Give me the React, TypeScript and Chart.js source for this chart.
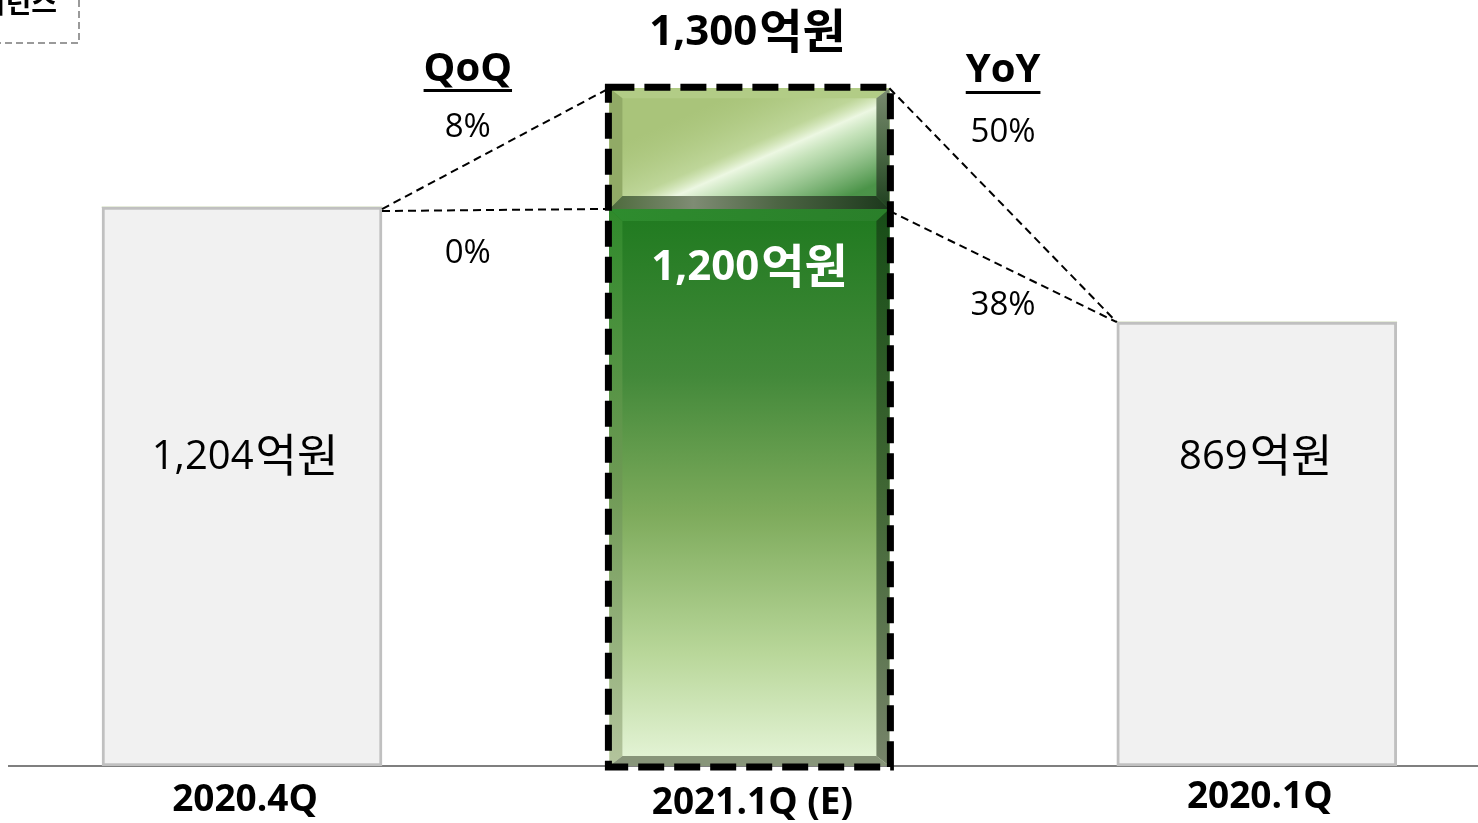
import React, { useEffect, useRef } from 'react';
import { Chart, registerables } from 'chart.js';

Chart.register(...registerables);

// ---- data ----
const categories = ['2020.4Q', '2021.1Q (E)', '2020.1Q'];
// bar heights as drawn in the diagram (the original is not drawn to scale)
const baseHeights = [1204, 1200, 956];
const upsideHeights = [0, 260, 0];
const valueLabels = ['1,204억원', '1,200억원', '869억원'];
const targetLabel = '1,300억원';
const compareTitles = ['QoQ', 'YoY'];
const qoqLabels = ['8%', '0%'];
const yoyLabels = ['50%', '38%'];
const cornerLabel = '가이던스';

const FONT = "'Open Sans', 'Noto Sans CJK KR', sans-serif";

function poly(ctx: CanvasRenderingContext2D, pts: number[][], fill: any) {
  ctx.beginPath();
  ctx.moveTo(pts[0][0], pts[0][1]);
  for (let i = 1; i < pts.length; i++) ctx.lineTo(pts[i][0], pts[i][1]);
  ctx.closePath();
  ctx.fillStyle = fill;
  ctx.fill();
}

function vgrad(ctx: CanvasRenderingContext2D, y0: number, y1: number, stops: [number, string][]) {
  const g = ctx.createLinearGradient(0, y0, 0, y1);
  stops.forEach(([o, c]) => g.addColorStop(o, c));
  return g;
}
function hgrad(ctx: CanvasRenderingContext2D, x0: number, x1: number, stops: [number, string][]) {
  const g = ctx.createLinearGradient(x0, 0, x1, 0);
  stops.forEach(([o, c]) => g.addColorStop(o, c));
  return g;
}

// draws "number + 억원" with the Hangul part a bit larger (Malgun-like proportions)
function drawMixed(ctx: CanvasRenderingContext2D, text: string, cx: number, cy: number,
  weight: string, numSize: number, hanSize: number) {
  const idx = text.search(/[\uAC00-\uD7A3]/);
  const num = idx >= 0 ? text.slice(0, idx) : text;
  const han = idx >= 0 ? text.slice(idx) : '';
  ctx.font = `${weight} ${numSize}px ${FONT}`;
  const wn = ctx.measureText(num).width;
  ctx.font = `${weight} ${hanSize}px ${FONT}`;
  const wh = ctx.measureText(han).width;
  const gap = 2;
  const x0 = cx - (wn + gap + wh) / 2;
  ctx.save();
  ctx.textAlign = 'left';
  ctx.textBaseline = 'alphabetic';
  ctx.font = `${weight} ${numSize}px ${FONT}`;
  const base = cy + numSize * 0.36;
  ctx.fillText(num, x0, base);
  ctx.font = `${weight} ${hanSize}px ${FONT}`;
  ctx.fillText(han, x0 + wn + gap, base + hanSize * 0.06);
  ctx.restore();
}

const decorPlugin = {
  id: 'decor',
  beforeDatasetsDraw(chart: any) {
    const ctx = chart.ctx as CanvasRenderingContext2D;
    const base = chart.scales.y.getPixelForValue(0);
    ctx.save();
    ctx.strokeStyle = '#555555';
    ctx.lineWidth = 1.5;
    ctx.beginPath();
    ctx.moveTo(8, base);
    ctx.lineTo(chart.width, base);
    ctx.stroke();
    ctx.restore();
  },
  afterDatasetsDraw(chart: any) {
    const ctx = chart.ctx as CanvasRenderingContext2D;
    const xs = chart.scales.x;
    const m0 = chart.getDatasetMeta(0).data;
    const m1 = chart.getDatasetMeta(1).data;
    const b1 = m0[0], g = m0[1], b3 = m0[2], up = m1[1];
    const L = g.x - g.width / 2, R = g.x + g.width / 2, W = g.width;
    const gTop = g.y, gBot = g.base;
    const uTop = up.y, uBot = up.base;

    ctx.save();
    // ---- bevels on green (estimate) part ----
    const s = 13, bt = 12, bb = 10;
    poly(ctx, [[L, gTop], [R, gTop], [R - s, gTop + bt], [L + s, gTop + bt]],
      hgrad(ctx, L, R, [[0, '#2e8c2e'], [1, '#2a7f2a']]));
    poly(ctx, [[L, gTop], [L + s, gTop + bt], [L + s, gBot - bb], [L, gBot]],
      vgrad(ctx, gTop, gBot, [[0, '#2f8a2b'], [0.5, '#6f9a55'], [1, '#b4c49d']]));
    poly(ctx, [[R, gTop], [R, gBot], [R - s, gBot - bb], [R - s, gTop + bt]],
      vgrad(ctx, gTop, gBot, [[0, '#174d17'], [0.5, '#3f6633'], [1, '#77846a']]));
    poly(ctx, [[L, gBot], [L + s, gBot - bb], [R - s, gBot - bb], [R, gBot]], '#88957a');

    // ---- upside part: gloss + bevels ----
    ctx.save();
    ctx.beginPath();
    ctx.rect(L, uTop, W, uBot - uTop);
    ctx.clip();
    const cx = L + 0.62 * W, cy = (uTop + uBot) / 2;
    const nx = 0.404, ny = 0.915, d = 70;
    const gl = ctx.createLinearGradient(cx - nx * d, cy - ny * d, cx + nx * d, cy + ny * d);
    gl.addColorStop(0, 'rgba(190,215,150,0)');
    gl.addColorStop(0.38, 'rgba(215,235,190,0.45)');
    gl.addColorStop(0.5, 'rgba(240,250,232,0.95)');
    gl.addColorStop(0.62, 'rgba(200,230,195,0.85)');
    gl.addColorStop(1, 'rgba(70,145,70,0.95)');
    ctx.fillStyle = gl;
    ctx.fillRect(L, uTop, W, uBot - uTop);
    ctx.restore();

    const ub = 13;
    poly(ctx, [[L, uTop], [R, uTop], [R - s, uTop + 10], [L + s, uTop + 10]], '#b2cc86');
    poly(ctx, [[L, uTop], [L + s, uTop + 10], [L + s, uBot - ub], [L, uBot]], '#91aa66');
    poly(ctx, [[R, uTop], [R, uBot], [R - s, uBot - ub], [R - s, uTop + 10]],
      vgrad(ctx, uTop, uBot, [[0, '#7a8a70'], [0.5, '#4c6a46'], [1, '#1f3f1f']]));
    poly(ctx, [[L, uBot], [L + s, uBot - ub], [R - s, uBot - ub], [R, uBot]],
      hgrad(ctx, L, R, [[0, '#4d6a3c'], [0.3, '#7f8c74'], [0.6, '#4d6544'], [1, '#1c381c']]));

    // ---- dashed outline around 2021.1Q ----
    ctx.setLineDash([26, 10]);
    ctx.lineWidth = 7;
    ctx.strokeStyle = '#000000';
    ctx.strokeRect(L - 1, uTop - 1, W + 2, gBot - uTop + 2);

    // ---- connector lines ----
    ctx.setLineDash([8, 5]);
    ctx.lineWidth = 2;
    const r1 = b1.x + b1.width / 2;
    const l3 = b3.x - b3.width / 2;
    ctx.beginPath();
    ctx.moveTo(r1, b1.y + 2); ctx.lineTo(L, uTop);
    ctx.moveTo(r1, b1.y + 4); ctx.lineTo(L, gTop);
    ctx.moveTo(R, uTop); ctx.lineTo(l3, b3.y);
    ctx.moveTo(R, gTop + 2); ctx.lineTo(l3, b3.y);
    ctx.stroke();
    ctx.setLineDash([]);

    // ---- texts ----
    ctx.textAlign = 'center';
    ctx.textBaseline = 'middle';
    ctx.fillStyle = '#000000';
    drawMixed(ctx, targetLabel, g.x - 2, 30, 'bold', 42, 47);

    const qx = xs.getPixelForValue(0.445);
    const yx = xs.getPixelForValue(1.5);
    ctx.font = `bold 40px ${FONT}`;
    [[qx, 70, 89, compareTitles[0]], [yx, 71, 91, compareTitles[1]]].forEach(([x, y, uy, t]: any) => {
      ctx.fillText(t, x, y);
      const w = ctx.measureText(t).width;
      ctx.fillRect(x - w / 2, uy, w, 3);
    });

    ctx.font = `33px ${FONT}`;
    ctx.fillText(qoqLabels[0], qx, 128);
    ctx.fillText(qoqLabels[1], qx, 254);
    ctx.fillText(yoyLabels[0], yx, 133);
    ctx.fillText(yoyLabels[1], yx, 306);

    drawMixed(ctx, valueLabels[0], b1.x + 3, 455, 'normal', 40, 45);
    drawMixed(ctx, valueLabels[2], b3.x - 1, 455, 'normal', 40, 45);

    ctx.fillStyle = '#ffffff';
    drawMixed(ctx, valueLabels[1], g.x, gTop + 56, 'bold', 42, 47);

    ctx.fillStyle = '#000000';
    ctx.textAlign = 'center';
    ctx.textBaseline = 'middle';
    ctx.font = `bold 37px ${FONT}`;
    const catY = [800, 803, 797];
    [b1, g, b3].forEach((el: any, i: number) => ctx.fillText(categories[i], el.x + 3, catY[i]));

    // ---- cut-off corner legend box ----
    ctx.strokeStyle = '#9a9a9a';
    ctx.lineWidth = 2;
    ctx.setLineDash([7, 4]);
    ctx.strokeRect(-10, -10, 89, 53);
    ctx.setLineDash([]);
    ctx.textAlign = 'right';
    ctx.textBaseline = 'alphabetic';
    ctx.font = `bold 28px ${FONT}`;
    ctx.fillText(cornerLabel, 57, 13);
    ctx.restore();
  },
};

export default function App() {
  const ref = useRef<HTMLCanvasElement | null>(null);
  useEffect(() => {
    if (!ref.current) return;
    const chart = new Chart(ref.current, {
      type: 'bar',
      data: {
        datasets: [
          {
            label: 'base',
            data: categories.map((_, i) => ({ x: i, y: baseHeights[i] })) as any,
            backgroundColor: (c: any) => {
              if (c.dataIndex !== 1) return '#f1f1f1';
              const area = c.chart.chartArea;
              if (!area) return '#4f9340';
              const y = c.chart.scales.y;
              const top = y.getPixelForValue(baseHeights[1]);
              const bot = y.getPixelForValue(0);
              const gr = c.chart.ctx.createLinearGradient(0, top, 0, bot);
              gr.addColorStop(0, '#1f7a1f');
              gr.addColorStop(0.3, '#43893a');
              gr.addColorStop(0.55, '#7eab5c');
              gr.addColorStop(0.8, '#b9d79a');
              gr.addColorStop(1, '#e6f5d9');
              return gr;
            },
            borderColor: ['#c0c0c0', 'rgba(0,0,0,0)', '#c0c0c0'],
            borderWidth: [3, 0, 3] as any,
            borderSkipped: false,
            barThickness: 280,
          },
          {
            label: 'upside',
            data: categories.map((_, i) => ({ x: i, y: upsideHeights[i] })) as any,
            backgroundColor: '#a9c47a',
            borderWidth: 0,
            barThickness: 280,
          },
        ],
      },
      options: {
        animation: false,
        responsive: false,
        layout: { padding: { top: 0, bottom: 57, left: 0, right: 0 } },
        scales: {
          x: { type: 'linear', min: -0.477, max: 2.436, offset: false, display: false, stacked: true },
          y: { min: 0, max: 1650, display: false, stacked: true },
        },
        plugins: { legend: { display: false }, tooltip: { enabled: false } },
      },
      plugins: [decorPlugin],
    });
    return () => chart.destroy();
  }, []);
  return (
    <div style={{ position: 'fixed', left: 0, top: 0, width: 1478, height: 823, background: '#ffffff' }}>
      <canvas ref={ref} width={1478} height={823} style={{ display: 'block' }} />
    </div>
  );
}
